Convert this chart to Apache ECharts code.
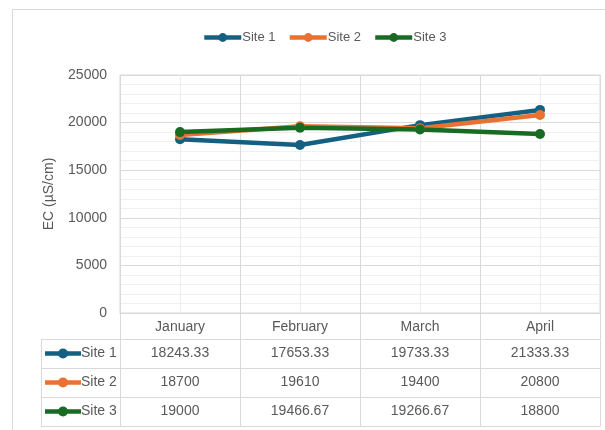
<!DOCTYPE html>
<html>
<head>
<meta charset="utf-8">
<script src="https://cdn.jsdelivr.net/npm/echarts@6/dist/echarts.min.js"></script>
<style>
  html, body { margin: 0; padding: 0; background: #fff; }
  #chart { width: 605px; height: 430px; }
</style>
</head>
<body>
<div id="chart"></div>
<script>
  var months = ['January', 'February', 'March', 'April'];
  var siteNames = ['Site 1', 'Site 2', 'Site 3'];
  var site1 = [18243.33, 17653.33, 19733.33, 21333.33];
  var site2 = [18700, 19610, 19400, 20800];
  var site3 = [19000, 19466.67, 19266.67, 18800];
  var siteColors = ['#156082', '#e97132', '#196b24'];

  var textColor = '#595959';
  var gridColor = '#d9d9d9';
  var font = 'Liberation Sans';

  var chart = echarts.init(document.getElementById('chart'));

  function lineSeries(name, data, color) {
    return {
      name: name,
      type: 'line',
      data: data,
      symbol: 'circle',
      symbolSize: 10,
      lineStyle: { width: 4.5, color: color },
      itemStyle: { color: color },
      emphasis: { disabled: true },
      animation: false
    };
  }

  var series = [
    lineSeries(siteNames[0], site1, siteColors[0]),
    lineSeries(siteNames[1], site2, siteColors[1]),
    lineSeries(siteNames[2], site3, siteColors[2])
  ];
  // light vertical lines through the middle of each month
  series[0].markLine = {
    silent: true,
    symbol: 'none',
    label: { show: false },
    lineStyle: { color: '#eeeeee', width: 1, type: 'solid' },
    data: months.map(function (m) { return { xAxis: m }; }),
    z: 0
  };

  var option = {
    animation: false,
    legend: {
      top: 26,
      left: 197,
      itemWidth: 37,
      itemHeight: 11,
      itemGap: 12,
      lineStyle: { width: 4.5 },
      textStyle: { color: textColor, fontSize: 13, fontFamily: font, padding: [0, 0, 0, -4] },
      data: siteNames
    },
    grid: {
      left: 120,
      right: 5,
      top: 75,
      bottom: 117,
      show: true,
      borderColor: gridColor,
      borderWidth: 1
    },
    xAxis: {
      type: 'category',
      data: months,
      boundaryGap: true,
      axisLine: { show: true, lineStyle: { color: gridColor, width: 1 } },
      axisTick: { show: true, length: 26, lineStyle: { color: gridColor } },
      axisLabel: { color: textColor, fontSize: 14, fontFamily: font, margin: 7 },
      splitLine: { show: true, lineStyle: { color: gridColor, width: 1 } }
    },
    yAxis: {
      type: 'value',
      min: 0,
      max: 25000,
      interval: 5000,
      name: 'EC (µS/cm)',
      nameLocation: 'middle',
      nameGap: 64,
      nameTextStyle: { color: textColor, fontSize: 14, fontFamily: font },
      axisLine: { show: false },
      axisTick: { show: false },
      axisLabel: {
        color: textColor, fontSize: 14, fontFamily: font, margin: 13,
        formatter: function (v) { return String(v); }
      },
      splitLine: { show: true, lineStyle: { color: gridColor, width: 1 } },
      minorTick: { show: false, splitNumber: 5 },
      minorSplitLine: { show: true, lineStyle: { color: '#f0f0f0', width: 1 } }
    },
    series: series
  };

  chart.setOption(option);

  // data table under the axis, built from the same arrays
  var values = [site1, site2, site3];
  var xs = months.map(function (m) { return chart.convertToPixel({ xAxisIndex: 0 }, m); });
  var half = (xs[1] - xs[0]) / 2;
  var plotLeft = xs[0] - half;
  var plotRight = xs[xs.length - 1] + half;
  var tableTop = chart.convertToPixel({ yAxisIndex: 0 }, 0) + 26;
  var rowH = 29;
  var tableLeft = 41;
  var lineStyle = { stroke: gridColor, lineWidth: 1 };
  var elements = [];

  // outer chart frame
  elements.push({
    type: 'rect', silent: true,
    shape: { x: 12.5, y: 9.5, width: 700, height: 700 },
    style: { fill: null, stroke: gridColor, lineWidth: 1 }
  });

  for (var r = 0; r <= siteNames.length; r++) {
    var y = Math.round(tableTop + r * rowH) + 0.5;
    elements.push({ type: 'line', silent: true, shape: { x1: tableLeft, y1: y, x2: plotRight, y2: y }, style: lineStyle });
  }
  var tableBottom = Math.round(tableTop + siteNames.length * rowH) + 0.5;
  var vx = [tableLeft, plotLeft].concat(xs.map(function (x) { return x + half; }));
  vx.forEach(function (x) {
    var px = Math.round(x) + 0.5;
    elements.push({ type: 'line', silent: true, shape: { x1: px, y1: Math.round(tableTop) + 0.5, x2: px, y2: tableBottom }, style: lineStyle });
  });

  siteNames.forEach(function (name, i) {
    var cy = tableTop + i * rowH + rowH / 2;
    elements.push({ type: 'line', silent: true, shape: { x1: 45, y1: cy, x2: 81, y2: cy }, style: { stroke: siteColors[i], lineWidth: 4.5 } });
    elements.push({ type: 'circle', silent: true, shape: { cx: 63, cy: cy, r: 5 }, style: { fill: siteColors[i] } });
    elements.push({
      type: 'text', silent: true, x: 81, y: cy,
      style: { text: name, fill: textColor, fontSize: 14, fontFamily: font, align: 'left', verticalAlign: 'middle' }
    });
    values[i].forEach(function (v, j) {
      elements.push({
        type: 'text', silent: true, x: xs[j], y: cy,
        style: { text: String(v), fill: textColor, fontSize: 14, fontFamily: font, align: 'center', verticalAlign: 'middle' }
      });
    });
  });

  chart.setOption({ graphic: { elements: elements } });
</script>
</body>
</html>
